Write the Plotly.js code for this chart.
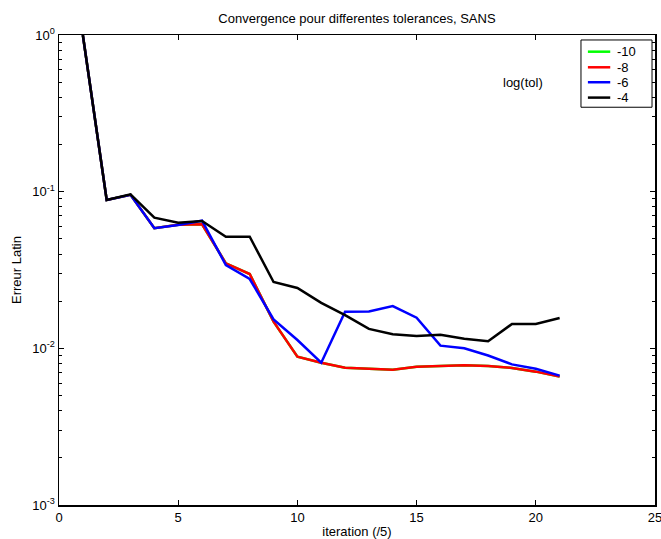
<!DOCTYPE html>
<html>
<head>
<meta charset="utf-8">
<script src="https://cdn.plot.ly/plotly-3.0.1.min.js"></script>
<style>html,body{margin:0;padding:0;background:#fff;}#chart{width:661px;height:539px;}</style>
</head>
<body>
<div id="chart"></div>
<script>
const iterations = [1,2,3,4,5,6,7,8,9,10,11,12,13,14,15,16,17,18,19,20,21];
const tol10 = [1.0,0.0885,0.0955,0.0584,0.0615,0.0619,0.0349,0.0298,0.0148,0.00885,0.0081,0.00753,0.0074,0.0073,0.00764,0.0077,0.0078,0.0077,0.0075,0.0071,0.0066];
const tol8  = [1.0,0.0885,0.0955,0.0584,0.0615,0.0619,0.0349,0.0298,0.0148,0.00885,0.0081,0.00753,0.0074,0.0073,0.00764,0.0077,0.0078,0.0077,0.0075,0.0071,0.0066];
const tol6  = [1.0,0.0885,0.0955,0.0584,0.0612,0.0653,0.034,0.0277,0.0153,0.0113,0.0081,0.0171,0.0172,0.0186,0.0157,0.0104,0.0100,0.0090,0.0079,0.0074,0.0067];
const tol4  = [1.0,0.0885,0.0962,0.0682,0.0634,0.065,0.0516,0.0516,0.0265,0.0243,0.0195,0.0163,0.0133,0.0123,0.0120,0.0122,0.0115,0.0111,0.0143,0.0143,0.0156];
const seriesNames = ['-10','-8','-6','-4'];
const seriesColors = ['#00ff00','#ff0000','#0000ff','#000000'];
const yTickVals = [0.001,0.01,0.1,1];
const yTickText = ['10<sup>-3</sup>','10<sup>-2</sup>','10<sup>-1</sup>','10<sup>0</sup>'];
const xTickVals = [0,5,10,15,20,25];

const minorVals = [];
[0.001,0.01,0.1].forEach(d => { for (let k = 2; k <= 9; k++) minorVals.push(d*k); });

const allSeries = [tol10, tol8, tol6, tol4];
const traces = allSeries.map((s, i) => ({
  x: iterations, y: s, type: 'scatter', mode: 'lines',
  name: seriesNames[i], line: {color: seriesColors[i], width: 2.5}, showlegend: false
}));

const font = {family: 'Liberation Sans, Arial, sans-serif', size: 13, color: '#000'};

// Legend box (paper coordinates)
const legBox = {x0: 0.8758, x1: 0.995, y0: 0.8463, y1: 0.9894};
const legRowY = [0.9645, 0.9313, 0.8995, 0.8668];
const legLineX = [0.8874, 0.9249];
const legTextX = 0.9325;

const shapes = [{type: 'rect', xref: 'paper', yref: 'paper', x0: legBox.x0, x1: legBox.x1, y0: legBox.y0, y1: legBox.y1,
  line: {color: '#000', width: 1}, fillcolor: '#fff', layer: 'above'}];
const annotations = [{
  text: 'log(tol)', xref: 'paper', yref: 'paper', x: 0.779, y: 0.9, xanchor: 'center', yanchor: 'middle',
  showarrow: false, font: font
}];
seriesNames.forEach((n, i) => {
  shapes.push({type: 'line', xref: 'paper', yref: 'paper', x0: legLineX[0], x1: legLineX[1], y0: legRowY[i], y1: legRowY[i],
    line: {color: seriesColors[i], width: 2.5}, layer: 'above'});
  annotations.push({text: n, xref: 'paper', yref: 'paper', x: legTextX, y: legRowY[i], xanchor: 'left', yanchor: 'middle',
    showarrow: false, font: font});
});

const layout = {
  width: 661, height: 539,
  margin: {l: 59, r: 6, t: 35, b: 34, pad: 0},
  paper_bgcolor: '#fff', plot_bgcolor: '#fff',
  font: font,
  showlegend: false,
  title: {text: 'Convergence pour differentes tolerances, SANS', font: {family: font.family, size: 13, color: '#000'}, x: 0.54, xanchor: 'center', y: 0.965, yanchor: 'middle'},
  xaxis: {
    range: [0, 25], tickmode: 'array', tickvals: xTickVals,
    ticks: 'inside', ticklen: 5, tickcolor: '#000', tickwidth: 1,
    showline: true, linecolor: '#000', linewidth: 1.5, mirror: 'ticks',
    showgrid: false, zeroline: false, ticklabeloverflow: 'allow',
    title: {text: 'iteration (/5)', font: font, standoff: 6},
    tickfont: font
  },
  yaxis: {
    type: 'log', range: [-3, 0], tickmode: 'array', tickvals: yTickVals, ticktext: yTickText,
    ticks: 'inside', ticklen: 5, tickcolor: '#000', tickwidth: 1,
    minor: {tickmode: 'array', tickvals: minorVals, ticks: 'inside', ticklen: 3, tickcolor: '#000', showgrid: false},
    showline: true, linecolor: '#000', linewidth: 1.5, mirror: 'ticks',
    showgrid: false, zeroline: false, ticklabeloverflow: 'allow',
    title: {text: 'Erreur Latin', font: font, standoff: 8},
    tickfont: font
  },
  shapes: shapes,
  annotations: annotations
};
Plotly.newPlot('chart', traces, layout, {displayModeBar: false, staticPlot: true});
</script>
</body>
</html>
